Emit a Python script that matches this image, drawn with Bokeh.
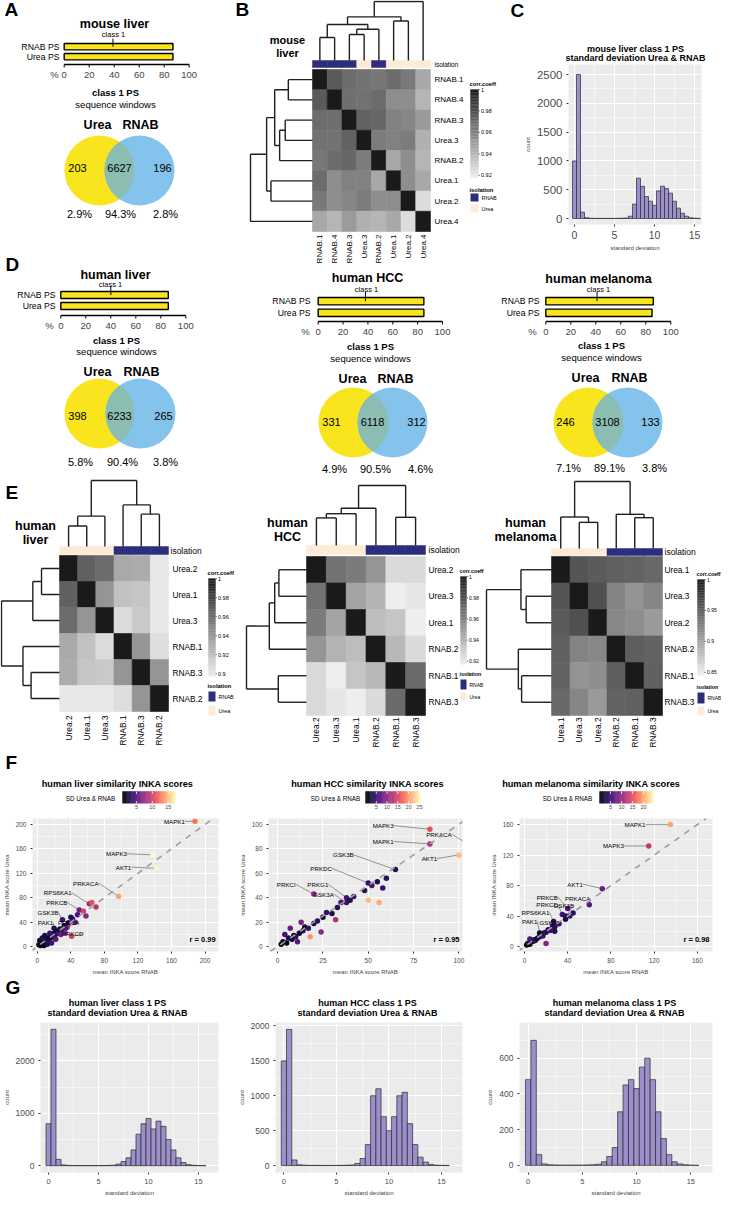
import math
import numpy as np
from bokeh.plotting import figure
from bokeh.layouts import row, column
from bokeh.models import (Range1d, Label, LinearColorMapper, FixedTicker, LinearAxis,
                          Grid, Slope, ColumnDataSource)
from bokeh.core.properties import value
from bokeh.embed import file_html
from bokeh.resources import INLINE
from bokeh.palettes import Magma256

FONT = "Liberation Sans"
YEL = "#F8E51D"
BLU = "#84C3EB"
OVL = "#8BBDB3"
NAVY = "#2C2E7B"
BEIGE = "#FDEBD8"
PURP = "#9C8FCB"
GGBG = "#EBEBEB"
DEN = "#1F1F1F"
GREYS = ["#%02x%02x%02x" % (g, g, g) for g in np.linspace(238, 26, 256).astype(int)]

# ------------------------------------------------------------------ data
bar_names = ["Urea PS", "RNAB PS"]
A_bars = [87, 87]
Dl_bars = [86, 86]
Dm_bars = [85, 85]
Dr_bars = [85, 86]
bar_ticks = [0, 20, 40, 60, 80, 100]
class1_A, class1_Dl, class1_Dm, class1_Dr = 39, 40, 38, 41

venn_A = ["203", "6627", "196"]
pct_A = ["2.9%", "94.3%", "2.8%"]
venn_Dl = ["398", "6233", "265"]
pct_Dl = ["5.8%", "90.4%", "3.8%"]
venn_Dm = ["331", "6118", "312"]
pct_Dm = ["4.9%", "90.5%", "4.6%"]
venn_Dr = ["246", "3108", "133"]
pct_Dr = ["7.1%", "89.1%", "3.8%"]

B_names = ["RNAB.1", "RNAB.4", "RNAB.3", "Urea.3", "RNAB.2", "Urea.1", "Urea.2", "Urea.4"]
B_groups = ["RNAB", "RNAB", "RNAB", "Urea", "RNAB", "Urea", "Urea", "Urea"]
B_corr = [
    [1.000, 0.975, 0.968, 0.966, 0.964, 0.968, 0.963, 0.945],
    [0.975, 1.000, 0.967, 0.966, 0.968, 0.955, 0.955, 0.940],
    [0.968, 0.967, 1.000, 0.972, 0.970, 0.960, 0.958, 0.950],
    [0.966, 0.966, 0.972, 1.000, 0.962, 0.960, 0.962, 0.942],
    [0.964, 0.968, 0.970, 0.962, 1.000, 0.945, 0.955, 0.940],
    [0.968, 0.955, 0.960, 0.960, 0.945, 1.000, 0.955, 0.945],
    [0.963, 0.955, 0.958, 0.962, 0.955, 0.955, 1.000, 0.925],
    [0.945, 0.940, 0.950, 0.942, 0.940, 0.945, 0.925, 1.000]]
B_merges = [(2, 3, 0.44), (0, 1, 0.39), (8, 4, 0.53), (9, 10, 0.61), (5, 6, 0.67), (11, 12, 0.74), (13, 7, 1.0)]

EL_names = ["Urea.2", "Urea.1", "Urea.3", "RNAB.1", "RNAB.3", "RNAB.2"]
EL_corr = [
    [1.000, 0.965, 0.960, 0.930, 0.929, 0.900],
    [0.965, 1.000, 0.940, 0.919, 0.917, 0.900],
    [0.960, 0.940, 1.000, 0.906, 0.915, 0.900],
    [0.930, 0.919, 0.906, 1.000, 0.940, 0.905],
    [0.929, 0.917, 0.915, 0.940, 1.000, 0.940],
    [0.900, 0.900, 0.900, 0.905, 0.940, 1.000]]
EL_merges = [(0, 1, 0.31), (6, 2, 0.46), (4, 5, 0.49), (3, 8, 0.63), (7, 9, 1.0)]

EM_names = ["Urea.2", "Urea.3", "Urea.1", "RNAB.2", "RNAB.1", "RNAB.3"]
EM_corr = [
    [1.000, 0.965, 0.962, 0.952, 0.925, 0.925],
    [0.965, 1.000, 0.946, 0.940, 0.917, 0.920],
    [0.962, 0.946, 1.000, 0.936, 0.933, 0.917],
    [0.952, 0.940, 0.936, 1.000, 0.938, 0.925],
    [0.925, 0.917, 0.933, 0.938, 1.000, 0.968],
    [0.925, 0.920, 0.917, 0.925, 0.968, 1.000]]
EM_merges = [(0, 1, 0.46), (6, 2, 0.53), (7, 3, 0.62), (4, 5, 0.47), (8, 9, 1.0)]

ER_names = ["Urea.1", "Urea.3", "Urea.2", "RNAB.2", "RNAB.1", "RNAB.3"]
ER_corr = [
    [1.000, 0.956, 0.952, 0.948, 0.946, 0.942],
    [0.956, 1.000, 0.960, 0.923, 0.911, 0.921],
    [0.952, 0.960, 1.000, 0.919, 0.915, 0.906],
    [0.948, 0.923, 0.919, 1.000, 0.950, 0.946],
    [0.946, 0.911, 0.915, 0.950, 1.000, 0.948],
    [0.942, 0.921, 0.906, 0.946, 0.948, 1.000]]
ER_merges = [(1, 2, 0.39), (0, 6, 0.47), (4, 5, 0.46), (3, 8, 0.51), (7, 9, 1.0)]
E_groups = ["Urea", "Urea", "Urea", "RNAB", "RNAB", "RNAB"]

# histograms: bin centres (width 0.5) and counts
hist_bins = [i * 0.5 for i in range(32)]
C_counts = [1000, 2500, 110, 15, 5, 3, 2, 2, 2, 2, 2, 3, 5, 10, 40, 250, 700, 560, 380, 300,
            230, 480, 560, 520, 440, 300, 180, 90, 40, 15, 5, 2]
GL_counts = [800, 2600, 120, 15, 5, 3, 2, 2, 2, 2, 2, 3, 5, 10, 30, 80, 150, 300, 600, 800,
             900, 700, 850, 750, 500, 300, 150, 60, 20, 8, 3, 1]
GM_counts = [1500, 1950, 80, 10, 4, 2, 2, 1, 1, 1, 2, 2, 4, 8, 30, 100, 300, 1000, 1100, 700,
             500, 700, 1000, 1050, 600, 300, 120, 50, 15, 5, 2, 1]
GR_counts = [480, 700, 60, 8, 3, 2, 1, 1, 1, 1, 1, 2, 3, 6, 20, 50, 100, 300, 450, 480,
             430, 550, 600, 480, 300, 150, 60, 20, 8, 3, 1, 0]

# scatter (mean INKA RNAB, mean INKA Urea, SD); the first len(*_lab) points are labelled
FL_x = [188, 138, 142, 97, 62, 50, 30, 20, 36, 41,
        2, 4, 5, 7, 8, 10, 11, 13, 14, 16, 18, 19, 21, 23, 25, 27, 29, 32, 34, 37, 42, 45, 48, 55, 58, 65, 70,
        8, 3, 12, 15, 22, 28, 6, 17, 9, 33, 40]
FL_y = [205, 150, 128, 82, 70, 60, 44, 30, 32, 17,
        3, 2, 6, 5, 9, 8, 12, 11, 15, 14, 17, 21, 19, 25, 22, 29, 27, 34, 30, 39, 45, 40, 52, 58, 50, 72, 65,
        2, 10, 4, 22, 12, 20, 14, 6, 18, 22, 48]
FL_sd = [12.5, 18, 17, 14, 8, 6, 4, 3, 9, 10,
         1, 1.5, 1, 2, 1, 2, 1.5, 3, 1, 2, 2, 1.5, 3, 2, 4, 2, 3, 2, 5, 3, 4, 6, 5, 10, 7, 11, 9,
         1, 2, 3, 4, 5, 6, 3, 4, 2.5, 7, 3]
FL_lab = ["MAPK1", "MAPK3", "AKT1", "PRKACA", "RPS6KA1", "PRKCB", "GSK3B", "PAK1", "PRKCA", "PRKCD"]
FL_lab_x = [176, 107, 112, 73, 41, 36, 25, 19, 50, 55]
FL_lab_y = [205, 152, 130, 104, 88, 72, 56, 40, 40, 21]

FM_x = [84, 84, 107, 100, 65, 50, 38, 20, 38,
        2, 3, 5, 6, 8, 9, 10, 12, 14, 15, 17, 20, 22, 25, 27, 30, 33, 35, 40, 42, 48, 52, 55, 58, 60,
        18, 50, 56, 4, 7, 11, 13, 24, 32]
FM_y = [96, 84, 82, 75, 63, 52, 40, 43, 36,
        2, 4, 3, 7, 6, 9, 8, 11, 13, 16, 15, 19, 21, 24, 28, 27, 32, 36, 38, 41, 46, 50, 53, 48, 56,
        8, 38, 36, 10, 15, 4, 20, 12, 22]
FM_sd = [16, 12, 24, 22, 4, 5, 6, 10, 5,
         1, 2, 1, 3, 2, 1, 4, 2, 3, 2, 5, 3, 4, 2, 5, 3, 4, 6, 3, 5, 4, 6, 3, 5, 4,
         20, 22, 21, 6, 8, 7, 9, 10, 12]
FM_lab = ["MAPK3", "MAPK1", "PRKACA", "AKT1", "GSK3B", "PRKDC", "PRKG1", "PRKCI", "GSK3A"]
FM_lab_x = [64, 64, 96, 88, 42, 30, 28, 10, 31]
FM_lab_y = [99, 86, 92, 72, 75, 64, 51, 51, 43]

FR_x = [135, 115, 72, 60, 40, 35, 38, 27, 14, 28,
        2, 3, 5, 6, 8, 9, 10, 12, 14, 15, 17, 18, 20, 22, 24, 26, 28, 32, 38, 42, 45, 5, 20]
FR_y = [160, 132, 76, 55, 50, 42, 40, 33, 18, 20,
        2, 4, 3, 6, 7, 9, 8, 11, 13, 15, 14, 18, 19, 22, 21, 27, 26, 30, 36, 40, 44, 10, 4]
FR_sd = [20, 13, 8, 7, 6, 5, 4, 3, 2, 3,
         1, 2, 1, 3, 2, 1, 4, 2, 3, 2, 5, 3, 4, 2, 5, 3, 4, 6, 3, 5, 4, 6, 9]
FR_lab = ["MAPK1", "MAPK3", "AKT1", "PRKACA", "PRKCB", "PRKCD", "GSK3B", "RPS6KA1", "PAK1", "GSK3A"]
FR_lab_x = [112, 92, 54, 61, 31, 31, 46, 23, 12, 33]
FR_lab_y = [160, 132, 82, 63, 65, 55, 54, 45, 33, 31]


# ------------------------------------------------------------------ helpers
class Pan:
    """A figure covering reference box (X0,Y0,X1,Y1); its frame covers `frame` with data ranges xr, yr."""

    def __init__(self, box, frame=None, xr=None, yr=None, bg="white"):
        X0, Y0, X1, Y1 = box
        W = int(round(X1 - X0))
        H = int(round(Y1 - Y0))
        if frame is None:
            frame = box
        l = int(round(frame[0] - X0))
        t = int(round(frame[1] - Y0))
        r = W - int(round(frame[2] - X0))
        b = H - int(round(frame[3] - Y0))
        self.fx0, self.fx1 = X0 + l, X0 + W - r
        self.fy0, self.fy1 = Y0 + t, Y0 + H - b
        if xr is None:
            xr = (self.fx0, self.fx1)
        if yr is None:
            yr = (self.fy1, self.fy0)
        self.xr, self.yr = xr, yr
        p = figure(width=W, height=H, x_range=Range1d(*xr), y_range=Range1d(*yr),
                   x_axis_location=None, y_axis_location=None, toolbar_location=None,
                   output_backend="svg", min_border_left=l, min_border_right=r,
                   min_border_top=t, min_border_bottom=b)
        try:
            p.frame_align = False
        except Exception:
            pass
        p.outline_line_color = None
        p.background_fill_color = bg
        p.border_fill_color = "white"
        p.grid.visible = False
        self.p = p

    def dx(self, X):
        return self.xr[0] + (X - self.fx0) / (self.fx1 - self.fx0) * (self.xr[1] - self.xr[0])

    def dy(self, Y):
        return self.yr[0] + (self.fy1 - Y) / (self.fy1 - self.fy0) * (self.yr[1] - self.yr[0])

    def txt(self, X, Y, s, size, bold=False, align="center", base="middle", angle=0.0, color="black"):
        self.p.add_layout(Label(x=self.dx(X), y=self.dy(Y), text=s, text_font=FONT,
                                text_font_size="%.1fpx" % size,
                                text_font_style="bold" if bold else "normal",
                                text_align=align, text_baseline=base, angle=angle,
                                text_color=color))


def text_panel(box, items):
    P = Pan(box)
    for it in items:
        X, Y, s, size, bold, align = it
        P.txt(X, Y, s, size, bold=bold, align=align)
    return P.p


def bar_panel(box, x0px, x100px, y_rnab, y_urea, bar_h, axis_y, vals, mark, title, title_xy,
              class_xy, pct_x, lab_right, letter, letter_xy, lab_size=8.7):
    X0, Y0, X1, Y1 = box
    k = (x100px - x0px) / 100.0
    step = y_urea - y_rnab
    fb = axis_y + 4
    xr = ((X0 - x0px) / k, (X1 - x0px) / k)
    yr = ((y_urea - fb) / step, (y_urea - Y0) / step)
    P = Pan(box, (X0, Y0, X1, fb), xr, yr)
    p = P.p
    ya = (y_urea - axis_y) / step
    p.hbar(y=[0, 1], left=0, right=vals, height=bar_h / step, fill_color=YEL,
           line_color="black", line_width=1.4)
    p.segment(x0=[mark], y0=[1.0], x1=[mark], y1=[1.8], line_color="black", line_width=1)
    p.segment(x0=[bar_ticks[0]], y0=[ya], x1=[bar_ticks[-1]], y1=[ya], line_color="black", line_width=1.5)
    p.segment(x0=bar_ticks, y0=ya, x1=bar_ticks, y1=ya - 3.0 / step, line_color="black", line_width=1)
    pv = round((pct_x - x0px) / k, 1)
    xa = LinearAxis(ticker=FixedTicker(ticks=[pv] + bar_ticks), major_label_overrides={pv: "%"},
                    major_label_text_font=FONT, major_label_text_font_size="9.5px",
                    major_tick_out=0, major_tick_in=0, minor_tick_out=0, minor_tick_in=0,
                    axis_line_color=None, major_tick_line_color=None, minor_tick_line_color=None,
                    major_label_standoff=0)
    p.add_layout(xa, "below")
    P.txt(lab_right, y_rnab, bar_names[1], lab_size, align="right")
    P.txt(lab_right, y_urea, bar_names[0], lab_size, align="right")
    P.txt(title_xy[0], title_xy[1], title, 12.5, bold=True)
    P.txt(class_xy[0], class_xy[1], "class 1", 7.5)
    if letter:
        P.txt(letter_xy[0], letter_xy[1], letter, 19, bold=True, align="left")
    return p


def venn_panel(box, cx1, cx2, cy, R, tx, ty, sy, lab_xy1, lab_xy2, nums, num_xs, num_y, pcts, pct_xs, pct_y):
    P = Pan(box)
    p = P.p
    p.circle(x=[cx1], y=[cy], radius=R, fill_color=YEL, line_color=None)
    p.circle(x=[cx2], y=[cy], radius=R, fill_color=BLU, line_color=None)
    th = math.acos((cx2 - cx1) / (2.0 * R))
    a1 = np.linspace(-th, th, 50)
    a2 = np.linspace(math.pi - th, math.pi + th, 50)
    xs = list(cx1 + R * np.cos(a1)) + list(cx2 + R * np.cos(a2))
    ys = list(cy + R * np.sin(a1)) + list(cy + R * np.sin(a2))
    p.patch(xs, ys, fill_color=OVL, line_color=None)
    P.txt(tx, ty, "class 1 PS", 9.5, bold=True)
    P.txt(tx, sy, "sequence windows", 9.5)
    P.txt(lab_xy1[0], lab_xy1[1], "Urea", 12.5, bold=True)
    P.txt(lab_xy2[0], lab_xy2[1], "RNAB", 12.5, bold=True)
    for s, x in zip(nums, num_xs):
        P.txt(x, num_y, s, 11)
    for s, x in zip(pcts, pct_xs):
        P.txt(x, pct_y, s, 11)
    return p


def dendro(merges, n):
    pos = {i: i + 0.5 for i in range(n)}
    hgt = {i: 0.0 for i in range(n)}
    segs = []
    for k, (a, b, h) in enumerate(merges):
        segs.append((pos[a], hgt[a], pos[a], h))
        segs.append((pos[b], hgt[b], pos[b], h))
        segs.append((pos[a], h, pos[b], h))
        pos[n + k] = (pos[a] + pos[b]) / 2.0
        hgt[n + k] = h
    return segs


def heat_panel(box, names, corr, groups, merges, HL, HR, HT, HB, iso_top, iso_bot, dtop, dleft,
               title_lines, title_x, title_ys, title_size, lab_size, rowlab_x, collab_top,
               iso_xy, iso_size, cb, letter=None, letter_xy=None):
    n = len(names)
    cw = (HR - HL) / n
    ch = (HB - HT) / n
    X0, Y0, X1, Y1 = box

    def u(X):
        return (X - HL) / cw

    def v(Y):
        return (Y - HT) / ch

    P = Pan(box, xr=(u(X0), u(X1)), yr=(v(Y1), v(Y0)))
    p = P.p
    lo = cb["lo"]
    mapper = LinearColorMapper(palette=GREYS, low=lo, high=1.0)
    cx, cy, cv = [], [], []
    for i in range(n):
        for j in range(n):
            cx.append(j + 0.5)
            cy.append(i + 0.5)
            cv.append(corr[i][j])
    src = ColumnDataSource(dict(x=cx, y=cy, v=cv))
    p.rect("x", "y", width=1, height=1, source=src,
           fill_color={"field": "v", "transform": mapper},
           line_color={"field": "v", "transform": mapper}, line_width=0.6)
    ic = [NAVY if g == "RNAB" else BEIGE for g in groups]
    p.rect(x=[j + 0.5 for j in range(n)], y=(v(iso_top) + v(iso_bot)) / 2.0, width=1,
           height=(iso_bot - iso_top) / ch, fill_color=ic, line_color=ic, line_width=0.5)
    segs = dendro(merges, n)
    vb, vt = v(iso_top), v(dtop)
    p.segment(x0=[s[0] for s in segs], y0=[vb + s[1] * (vt - vb) for s in segs],
              x1=[s[2] for s in segs], y1=[vb + s[3] * (vt - vb) for s in segs],
              line_color=DEN, line_width=1.4)
    ul = u(dleft)
    p.segment(x0=[s[1] * ul for s in segs], y0=[s[0] for s in segs],
              x1=[s[3] * ul for s in segs], y1=[s[2] for s in segs],
              line_color=DEN, line_width=1.4)
    for i, nm in enumerate(names):
        P.txt(rowlab_x, HT + (i + 0.5) * ch, nm, lab_size, align="left")
        P.txt(HL + (i + 0.5) * cw, collab_top, nm, lab_size, align="right", angle=math.pi / 2)
    P.txt(iso_xy[0], iso_xy[1], "isolation", iso_size, align="left")
    for t, y in zip(title_lines, title_ys):
        P.txt(title_x, y, t, title_size, bold=True)
    if letter:
        P.txt(letter_xy[0], letter_xy[1], letter, 19, bold=True, align="left")
    # colour key
    ytop, ybot = cb["ytop"], cb["ybot"]
    kk = (ybot - ytop) / (1.0 - lo)
    edges = np.linspace(lo, 1.0, 61)
    cols = [GREYS[min(255, int((e - lo) / (1.0 - lo) * 255))] for e in edges[:-1]]
    p.quad(left=u(cb["x0"]), right=u(cb["x1"]),
           top=[v(ybot - (e - lo) * kk) for e in edges[1:]],
           bottom=[v(ybot - (e - lo) * kk) for e in edges[:-1]],
           fill_color=cols, line_color=cols, line_width=0.3)
    fs = cb.get("fs", 5.5)
    for t, s in zip(cb["ticks"], cb["labels"]):
        yy = ybot - (t - lo) * kk
        p.segment(x0=[u(cb["x1"])], y0=[v(yy)], x1=[u(cb["x1"] + 1.5)], y1=[v(yy)],
                  line_color="#333333", line_width=0.6)
        P.txt(cb["x1"] + 2.5, yy, s, fs, align="left")
    P.txt(cb["x0"] - 1, ytop - 6, "corr.coeff", fs + 0.3, bold=True, align="left")
    P.txt(cb["x0"] - 1, cb["iso_y"], "isolation", fs + 0.3, bold=True, align="left")
    (a0, a1), (b0, b1) = cb["sq"]
    p.quad(left=u(cb["x0"]), right=u(cb["x1"]), top=[v(a0), v(b0)], bottom=[v(a1), v(b1)],
           fill_color=[NAVY, BEIGE], line_color=None)
    P.txt(cb["x1"] + 3, (a0 + a1) / 2.0, "RNAB", fs, align="left")
    P.txt(cb["x1"] + 3, (b0 + b1) / 2.0, "Urea", fs, align="left")
    return p


def mids(ticks):
    st = ticks[1] - ticks[0]
    return [ticks[0] - st / 2.0] + [t + st / 2.0 for t in ticks]


def gg_axes(p, xticks, yticks, xlab, ylab, tsize_x, tsize_y, lsize):
    xt = FixedTicker(ticks=xticks, minor_ticks=mids(xticks))
    yt = FixedTicker(ticks=yticks, minor_ticks=mids(yticks))
    p.add_layout(Grid(dimension=0, ticker=xt, grid_line_color="white", grid_line_width=1.1,
                      minor_grid_line_color="white", minor_grid_line_width=0.5))
    p.add_layout(Grid(dimension=1, ticker=yt, grid_line_color="white", grid_line_width=1.1,
                      minor_grid_line_color="white", minor_grid_line_width=0.5))
    common = dict(axis_line_color=None, major_tick_line_color="#333333", major_tick_out=2,
                  major_tick_in=0, minor_tick_line_color=None, major_label_text_font=FONT,
                  major_label_text_color="#4D4D4D", axis_label_text_font=FONT,
                  axis_label_text_font_style="normal", axis_label_text_font_size="%.1fpx" % lsize,
                  major_label_standoff=2, axis_label_standoff=3)
    xa = LinearAxis(ticker=xt, axis_label=xlab, major_label_text_font_size="%.1fpx" % tsize_x, **common)
    ya = LinearAxis(ticker=yt, axis_label=ylab, major_label_text_font_size="%.1fpx" % tsize_y, **common)
    p.add_layout(xa, "below")
    p.add_layout(ya, "left")


def hist_panel(box, frame, xr, yr, counts, xticks, yticks, tsize_x, tsize_y):
    P = Pan(box, frame, xr, yr, bg=GGBG)
    p = P.p
    gg_axes(p, xticks, yticks, "standard deviation", "count", tsize_x, tsize_y, 6)
    bw = hist_bins[1] - hist_bins[0]
    p.quad(left=[c - bw / 2 for c in hist_bins], right=[c + bw / 2 for c in hist_bins],
           bottom=0, top=counts, fill_color=PURP, line_color="#2B2B2B", line_width=0.7)
    return p


def scatter_header(box, gx0, gx1, gy0, gy1, lo, hi, cticks, title, title_xy, sd_xy, letter=None, letter_xy=None):
    X0, Y0, X1, Y1 = box
    k = (gx1 - gx0) / (hi - lo)
    xr = (lo - (gx0 - X0) / k, hi + (X1 - gx1) / k)
    P = Pan(box, (X0, Y0, X1, gy1), xr, None)
    p = P.p
    edges = np.linspace(lo, hi, 65)
    mapper = LinearColorMapper(palette=Magma256, low=lo, high=hi)
    src = ColumnDataSource(dict(l=edges[:-1], r=edges[1:], v=(edges[:-1] + edges[1:]) / 2))
    p.quad(left="l", right="r", top=gy0, bottom=gy1, source=src,
           fill_color={"field": "v", "transform": mapper},
           line_color={"field": "v", "transform": mapper}, line_width=0.3)
    p.segment(x0=cticks, y0=gy1, x1=cticks, y1=gy1 - 2.4, line_color="white", line_width=0.8)
    p.segment(x0=cticks, y0=gy0, x1=cticks, y1=gy0 + 2.4, line_color="white", line_width=0.8)
    ax = LinearAxis(ticker=FixedTicker(ticks=cticks), axis_line_color=None,
                    major_tick_line_color=None, minor_tick_line_color=None,
                    major_tick_out=0, major_tick_in=0,
                    major_label_standoff=1, major_label_text_font=FONT,
                    major_label_text_font_size="5.5px", major_label_text_color="#4D4D4D")
    p.add_layout(ax, "below")
    P.txt(title_xy[0], title_xy[1], title, 9.2, bold=True)
    P.txt(sd_xy[0], sd_xy[1], "SD Urea & RNAB", 6.3)
    if letter:
        P.txt(letter_xy[0], letter_xy[1], letter, 19, bold=True, align="left")
    return p, mapper


def scatter_main(box, frame, xr, yr, xticks, yticks, xs, ys, sds, mapper, labs, lab_x, lab_y, rtxt):
    P = Pan(box, frame, xr, yr, bg=GGBG)
    p = P.p
    gg_axes(p, xticks, yticks, "mean INKA score RNAB", "mean INKA score Urea", 6.5, 6.5, 6)
    p.add_layout(Slope(gradient=1, y_intercept=0, line_color="#9E9E9E", line_dash="dashed",
                       line_width=1.6))
    m = len(labs)
    p.segment(x0=lab_x, y0=lab_y, x1=xs[:m], y1=ys[:m], line_color="#555555", line_width=0.6)
    src = ColumnDataSource(dict(x=xs, y=ys, sd=sds))
    p.scatter("x", "y", source=src, size=5.5, fill_color={"field": "sd", "transform": mapper},
              line_color=None)
    p.text(x=lab_x, y=lab_y, text=labs, text_align="right", text_baseline="middle",
           text_font=value(FONT), text_font_size=value("6.2px"), text_color="black")
    P.txt(frame[2] - 3, frame[3] - 12, rtxt, 7.5, bold=True, align="right")
    return p


# ------------------------------------------------------------------ panels (reference pixel boxes)
A_bar = bar_panel((8, 8, 235, 90), 71.7, 196.7, 54.2, 64.2, 6.3, 72, A_bars, class1_A,
                  "mouse liver", (122, 31), (121, 42), 62, 67, "A", (12, 17))
A_ven = venn_panel((8, 90, 235, 232), 107, 147, 178, 35, 123, 100, 112, (105, 132), (148, 132),
                   venn_A, [85, 127, 170], 175, pct_A, [87, 128, 173], 221)
Dl_bar = bar_panel((8, 232, 235, 341), 68.3, 193.3, 302.5, 313.5, 7, 323, Dl_bars, class1_Dl,
                   "human liver", (123, 282), (118, 292), 57, 63, "D", (13, 272))
Dl_ven = venn_panel((8, 341, 235, 485), 107, 148, 421, 35, 124, 348, 359, (105, 379), (149, 379),
                    venn_Dl, [85, 127, 171], 423, pct_Dl, [88, 130, 173], 469)

B_heat = heat_panel((235, 8, 510, 278), B_names, B_corr, B_groups, B_merges,
                    320, 438, 77, 239, 68, 75, 9, 258,
                    ["mouse", "liver"], 295, [47, 60], 11, 8, 442, 242, (442, 72), 6.5,
                    dict(lo=0.918, x0=478, x1=486, ytop=97, ybot=185,
                         ticks=[0.92, 0.94, 0.96, 0.98, 1.0], labels=["0.92", "0.94", "0.96", "0.98", "1"],
                         iso_y=197, sq=[(201, 209), (212, 220)]),
                    "B", (243, 17))
C_head = text_panel((510, 8, 729, 70), [(518, 18, "C", 19, True, "left"),
                                        (643, 56.5, "mouse liver class 1 PS", 9, True, "center"),
                                        (643, 65.5, "standard deviation Urea & RNAB", 9, True, "center")])
C_hist = hist_panel((510, 70, 729, 278), (576, 72, 709, 232), (-0.75, 15.875), (-104, 2674),
                    C_counts, [0, 5, 10, 15], [0, 500, 1000, 1500, 2000, 2500], 10.5, 11.5)
Dm_bar = bar_panel((235, 278, 490, 347), 325.7, 450, 308.7, 320.3, 7.3, 329, Dm_bars, class1_Dm,
                   "human HCC", (375, 285), (374, 297), 313, 318, None, None)
Dr_bar = bar_panel((490, 278, 729, 347), 553.3, 678.3, 308.7, 320.3, 7.3, 329, Dr_bars, class1_Dr,
                   "human melanoma", (606, 286), (606, 297), 540, 547, None, None)
Dm_ven = venn_panel((235, 347, 490, 485), 361, 400, 430, 35, 378, 354, 366, (360, 386), (403, 386),
                    venn_Dm, [339, 380, 424], 429, pct_Dm, [342, 383, 428], 476)
Dr_ven = venn_panel((490, 347, 729, 485), 596, 635, 430, 35, 609, 353, 365, (593, 385), (637, 385),
                    venn_Dr, [573, 615, 658], 429, pct_Dr, [576, 617, 662], 475)

EL_heat = heat_panel((8, 485, 246, 758), EL_names, EL_corr, E_groups, EL_merges,
                     67, 176, 563, 719, 554, 562, 488, 9,
                     ["human", "liver"], 43, [533, 547], 12.5, 8.3, 180, 723, (178, 558), 8.5,
                     dict(lo=0.897, x0=216, x1=223, ytop=586, ybot=684,
                          ticks=[0.9, 0.92, 0.94, 0.96, 0.98, 1.0], labels=["0.9", "0.92", "0.94", "0.96", "0.98", "1"],
                          iso_y=693, sq=[(699, 709), (713, 723)]),
                     "E", (13, 500))
EM_heat = heat_panel((246, 485, 492, 758), EM_names, EM_corr, E_groups, EM_merges,
                     314, 433, 564, 723, 553, 562, 493, 254,
                     ["human", "HCC"], 295, [530, 544], 12.5, 8.3, 436, 725, (436, 557), 8.5,
                     dict(lo=0.917, x0=468, x1=474, ytop=584, ybot=672, fs=5.0,
                          ticks=[0.92, 0.94, 0.96, 0.98, 1.0], labels=["0.92", "0.94", "0.96", "0.98", "1"],
                          iso_y=681, sq=[(687, 697), (700, 708)]))
ER_heat = heat_panel((492, 485, 729, 758), ER_names, ER_corr, E_groups, ER_merges,
                     559, 670, 564, 723, 556, 563, 489, 494,
                     ["human", "melanoma"], 533, [530, 544], 12.5, 8.3, 672, 725, (672, 559), 8.5,
                     dict(lo=0.845, x0=705, x1=712, ytop=587, ybot=683, fs=5.0,
                          ticks=[0.85, 0.9, 0.95, 1.0], labels=["0.85", "0.9", "0.95", "1"],
                          iso_y=694, sq=[(700, 711), (714, 723)]))

FL_h, FL_map = scatter_header((8, 758, 240, 822), 130, 183, 799, 811, 0.6, 17.3, [5, 10, 15],
                              "human liver similarity INKA scores", (125, 791), (98, 806), "F", (13, 770))
FM_h, FM_map = scatter_header((240, 758, 490, 822), 373, 428, 799, 811, 0.0, 25.5, [5, 10, 15, 20, 25],
                              "human HCC similarity INKA scores", (375, 791), (343, 806))
FR_h, FR_map = scatter_header((490, 758, 729, 822), 607, 661, 799, 811, 0.0, 24.5, [5, 10, 15, 20],
                              "human melanoma  similarity INKA scores", (600, 791), (575, 806))
FL_m = scatter_main((8, 822, 240, 985), (31, 826, 226, 962), (-5.7, 216), (-8, 209.6),
                    [0, 40, 80, 120, 160, 200], [0, 40, 80, 120, 160, 200],
                    FL_x, FL_y, FL_sd, FL_map, FL_lab, FL_lab_x, FL_lab_y, "r = 0.99")
FM_m = scatter_main((240, 822, 490, 985), (276, 826, 470, 962), (-5.0, 102), (-4, 104.8),
                    [0, 25, 50, 75, 100], [0, 20, 40, 60, 80, 100],
                    FM_x, FM_y, FM_sd, FM_map, FM_lab, FM_lab_x, FM_lab_y, "r = 0.95")
FR_m = scatter_main((490, 822, 729, 985), (527, 826, 720, 962), (-4.6, 174), (-6.4, 168),
                    [0, 40, 80, 120, 160], [0, 40, 80, 120, 160],
                    FR_x, FR_y, FR_sd, FR_map, FR_lab, FR_lab_x, FR_lab_y, "r = 0.98")

GL_head = text_panel((8, 985, 240, 1028), [(13, 995, "G", 19, True, "left"),
                                           (125, 1010, "human liver class 1 PS", 9, True, "center"),
                                           (125, 1020, "standard deviation Urea & RNAB", 9, True, "center")])
GM_head = text_panel((240, 985, 490, 1028), [(375, 1010, "human HCC class 1 PS", 9, True, "center"),
                                             (375, 1020, "standard deviation Urea & RNAB", 9, True, "center")])
GR_head = text_panel((490, 985, 729, 1028), [(622, 1010, "human melanoma class 1 PS", 9, True, "center"),
                                             (622, 1020, "standard deviation Urea & RNAB", 9, True, "center")])
GL_hist = hist_panel((8, 1028, 240, 1206), (37, 1030, 226, 1184), (-0.8, 17), (-130, 2730),
                     GL_counts, [0, 5, 10, 15], [0, 1000, 2000], 7.5, 8.5)
GM_hist = hist_panel((240, 1028, 490, 1206), (283, 1030, 470, 1184), (-0.8, 17), (-100, 2050),
                     GM_counts, [0, 5, 10, 15], [0, 500, 1000, 1500, 2000], 7.5, 8.5)
GR_hist = hist_panel((490, 1028, 729, 1206), (527, 1030, 720, 1184), (-0.8, 17), (-40, 800),
                     GR_counts, [0, 5, 10, 15], [0, 200, 400, 600], 7.5, 8.5)

# ------------------------------------------------------------------ layout
colL = column(A_bar, A_ven, Dl_bar, Dl_ven, spacing=0)
colMR = column(row(B_heat, column(C_head, C_hist, spacing=0), spacing=0),
               row(Dm_bar, Dr_bar, spacing=0),
               row(Dm_ven, Dr_ven, spacing=0), spacing=0)
top = row(colL, colMR, spacing=0)
Erow = row(EL_heat, EM_heat, ER_heat, spacing=0)
Frow = row(column(FL_h, FL_m, spacing=0), column(FM_h, FM_m, spacing=0),
           column(FR_h, FR_m, spacing=0), spacing=0)
Grow = row(column(GL_head, GL_hist, spacing=0), column(GM_head, GM_hist, spacing=0),
           column(GR_head, GR_hist, spacing=0), spacing=0)
page = column(top, Erow, Frow, Grow, spacing=0)

open("out.html", "w").write(file_html(page, INLINE))
